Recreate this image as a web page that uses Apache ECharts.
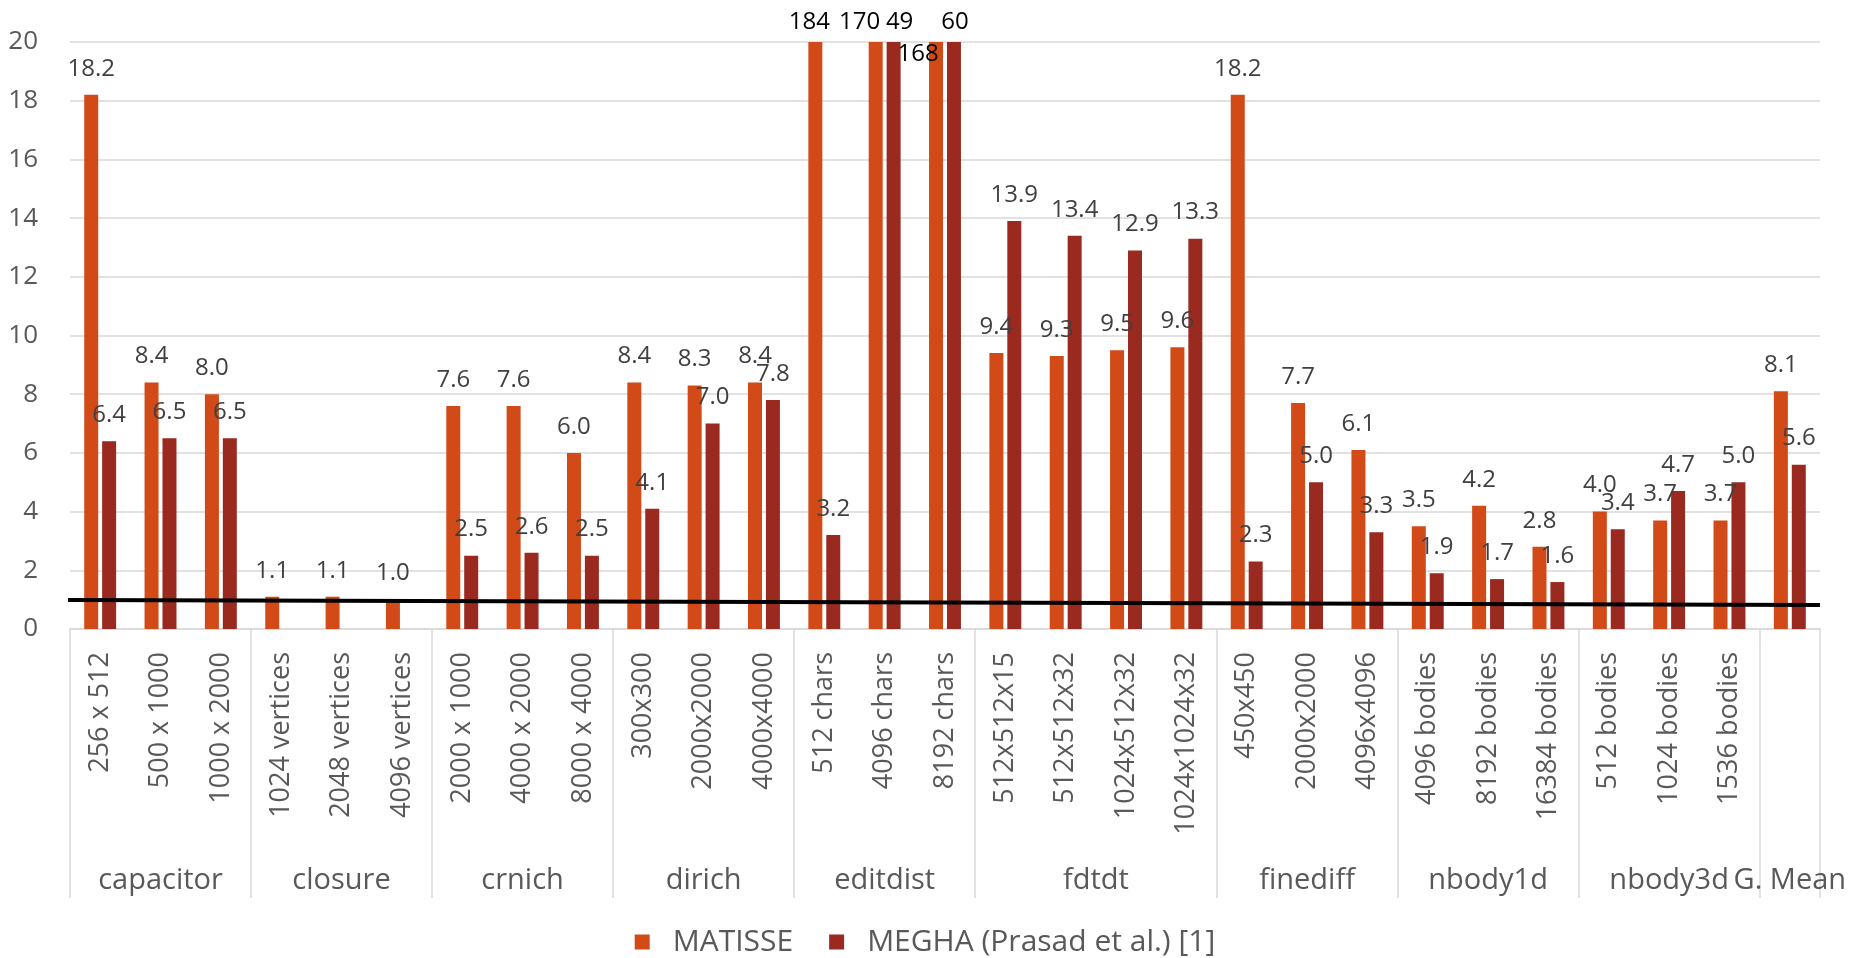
<!DOCTYPE html>
<html>
<head>
<meta charset="utf-8">
<script src="https://cdn.jsdelivr.net/npm/echarts@6/dist/echarts.min.js"></script>
<style>
  html, body { margin: 0; padding: 0; background: #ffffff; }
  #chart { width: 1850px; height: 958px; }
</style>
</head>
<body>
<div id="chart"></div>
<script>
// Benchmark groups and how many inputs each one has
const groups = ['capacitor', 'closure', 'crnich', 'dirich', 'editdist', 'fdtdt', 'finediff', 'nbody1d', 'nbody3d', 'G. Mean'];
const groupSizes = [3, 3, 3, 3, 3, 4, 3, 3, 3, 1];

// Input sizes (leaf categories)
const inputs = [
  '256 x 512', '500 x 1000', '1000 x 2000',
  '1024 vertices', '2048 vertices', '4096 vertices',
  '2000 x 1000', '4000 x 2000', '8000 x 4000',
  '300x300', '2000x2000', '4000x4000',
  '512 chars', '4096 chars', '8192 chars',
  '512x512x15', '512x512x32', '1024x512x32', '1024x1024x32',
  '450x450', '2000x2000', '4096x4096',
  '4096 bodies', '8192 bodies', '16384 bodies',
  '512 bodies', '1024 bodies', '1536 bodies',
  ''
];

// Speedups
const matisse = [
  18.2, 8.4, 8.0,
  1.1, 1.1, 1.0,
  7.6, 7.6, 6.0,
  8.4, 8.3, 8.4,
  184, 170, 168,
  9.4, 9.3, 9.5, 9.6,
  18.2, 7.7, 6.1,
  3.5, 4.2, 2.8,
  4.0, 3.7, 3.7,
  8.1
];
const megha = [
  6.4, 6.5, 6.5,
  null, null, null,
  2.5, 2.6, 2.5,
  4.1, 7.0, 7.8,
  3.2, 49, 60,
  13.9, 13.4, 12.9, 13.3,
  2.3, 5.0, 3.3,
  1.9, 1.7, 1.6,
  3.4, 4.7, 5.0,
  5.6
];

// Reference line (speedup of 1), start and end values
const refLine = [0.99, 0.82];

// Y axis range
const yMin = 0, yMax = 20, yStep = 2;

// Off-scale labels get nudged (dx, dy) so they do not collide
const offScaleNudge = [
  { 12: [-6, 6], 13: [-16, 6], 14: [-18, 38] },
  { 13: [6, 6], 14: [1, 6] }
];

const ORANGE = '#D24A18';
const DARK = '#9A2A20';
const GRID = '#D9D9D9';
const TEXT = '#595959';
const LABEL = '#404040';
const FONT = '"Open Sans", "Noto Sans", sans-serif';

// group boundaries and centres on a 0..N scale
const N = inputs.length;
const bounds = [0];
groupSizes.forEach(s => bounds.push(bounds[bounds.length - 1] + s));
const centres = groupSizes.map((s, i) => bounds[i] + s / 2);

function buildData(values) {
  return values.map(v => {
    if (v === null) return { value: null, label: { show: false } };
    if (v > yMax) return { value: v, label: { color: '#000000' } };
    return v;
  });
}

function fmt(p) {
  const v = p.value;
  if (v === null || v === undefined) return '';
  return v > yMax ? String(Math.round(v)) : v.toFixed(1);
}

const barLabel = {
  show: true,
  position: 'top',
  distance: 14,
  formatter: fmt,
  color: LABEL,
  fontFamily: FONT,
  fontSize: 24
};

function nudge(seriesIdx) {
  return function (p) {
    const d = offScaleNudge[seriesIdx][p.dataIndex];
    return d ? { dx: d[0], dy: d[1] } : {};
  };
}

const chart = echarts.init(document.getElementById('chart'), null, { renderer: 'canvas' });

chart.setOption({
  animation: false,
  backgroundColor: '#ffffff',
  textStyle: { fontFamily: FONT },
  grid: { left: 70, right: 30, top: 42, bottom: 329, containLabel: false },
  legend: {
    data: ['MATISSE', 'MEGHA (Prasad et al.) [1]'],
    left: 'center',
    top: 922,
    icon: 'rect',
    itemWidth: 15,
    itemHeight: 15,
    itemGap: 36,
    textStyle: { fontSize: 30, color: TEXT, fontFamily: FONT, padding: [0, 0, 0, 18] }
  },
  xAxis: [
    {
      type: 'category',
      data: inputs,
      position: 'bottom',
      axisLine: { show: true, lineStyle: { color: GRID, width: 1.5 } },
      axisTick: { show: false },
      axisLabel: {
        rotate: 90,
        interval: 0,
        margin: 23,
        fontSize: 27,
        color: TEXT,
        fontFamily: FONT
      },
      splitLine: { show: false }
    },
    {
      // group level of the category axis: separators and benchmark names
      type: 'value',
      min: 0,
      max: N,
      position: 'bottom',
      axisLine: { show: false },
      splitLine: { show: false },
      axisTick: {
        show: true,
        customValues: bounds,
        length: 269,
        lineStyle: { color: GRID, width: 1.5 }
      },
      axisLabel: {
        customValues: centres,
        margin: 237,
        fontSize: 29,
        color: TEXT,
        fontFamily: FONT,
        formatter: v => {
          const i = centres.findIndex(c => Math.abs(c - v) < 1e-6);
          return i >= 0 ? groups[i] : '';
        }
      }
    }
  ],
  yAxis: {
    type: 'value',
    min: yMin,
    max: yMax,
    interval: yStep,
    axisLine: { show: false },
    axisTick: { show: false },
    axisLabel: { fontSize: 26, color: TEXT, margin: 32, fontFamily: FONT },
    splitLine: { lineStyle: { color: GRID, width: 1.5 } }
  },
  series: [
    {
      name: 'MATISSE',
      type: 'bar',
      xAxisIndex: 0,
      data: buildData(matisse),
      barWidth: 14,
      barGap: '28%',
      itemStyle: { color: ORANGE },
      label: barLabel,
      labelLayout: nudge(0)
    },
    {
      name: 'MEGHA (Prasad et al.) [1]',
      type: 'bar',
      xAxisIndex: 0,
      data: buildData(megha),
      barWidth: 14,
      barGap: '28%',
      itemStyle: { color: DARK },
      label: barLabel,
      labelLayout: nudge(1)
    },
    {
      name: 'speedup 1',
      type: 'line',
      xAxisIndex: 1,
      yAxisIndex: 0,
      data: [[-0.07, refLine[0]], [N, refLine[1]]],
      symbol: 'none',
      clip: false,
      z: 5,
      lineStyle: { color: '#000000', width: 4 },
      label: { show: false },
      silent: true
    }
  ]
});
</script>
</body>
</html>
